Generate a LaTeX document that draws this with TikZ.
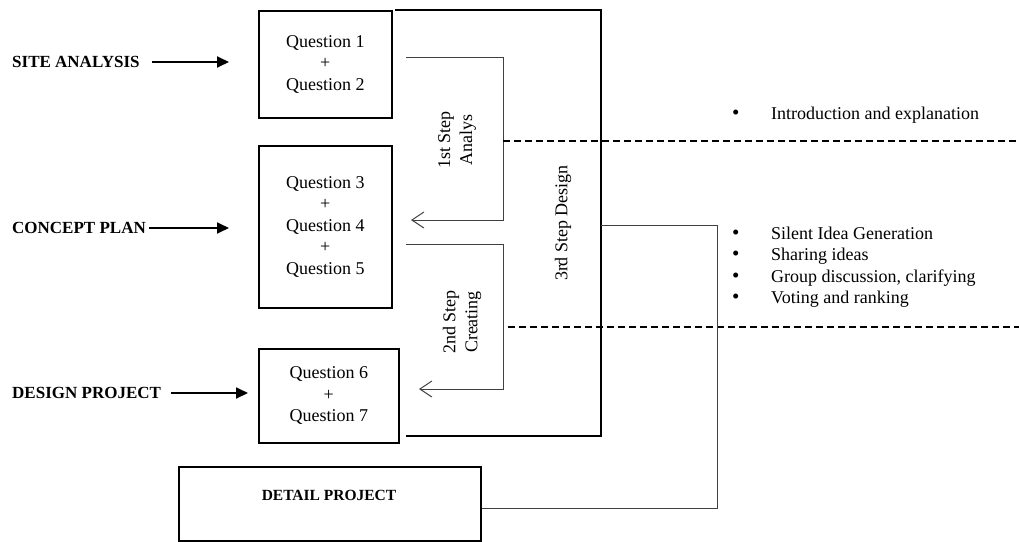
\documentclass[tikz,border=0pt]{standalone}
\usepackage{fontspec}
\setmainfont{Liberation Serif}
\usetikzlibrary{arrows.meta}
\begin{document}
\begin{tikzpicture}[x=1pt,y=-1pt,
  qbox/.style={draw, line width=1.6pt, anchor=north west, align=center, inner sep=0pt,
    font=\fontsize{18}{21.5}\selectfont},
  lbl/.style={anchor=west, inner sep=0pt, font=\fontsize{17}{20}\selectfont\bfseries},
  larrow/.style={line width=1.8pt, -{Triangle[length=12pt,width=11pt]}},
  frame/.style={line width=1.6pt},
  thinline/.style={line width=1pt, draw=black!75},
  barb/.style={thinline, -{Straight Barb[length=12pt,width=16pt]}},
  sepline/.style={line width=1.5pt, dash pattern=on 7pt off 4pt},
  rot/.style={rotate=90, align=center, inner sep=0pt, font=\fontsize{18}{22}\selectfont},
  bul/.style={anchor=base west, inner sep=0pt, font=\fontsize{18}{21}\selectfont}]
\useasboundingbox (0,0) rectangle (1019,541);

% question boxes
\node[qbox, minimum width=133pt, minimum height=107pt] (q12) at (258,10) {Question 1\\+\\Question 2};
\node[qbox, minimum width=133pt, minimum height=162pt] (q345) at (258,145) {Question 3\\+\\Question 4\\+\\Question 5};
\node[qbox, minimum width=140pt, minimum height=94pt] (q67) at (258,348) {Question 6\\+\\Question 7};
\node[draw, line width=1.6pt, anchor=north west, minimum width=302pt, minimum height=74pt, inner sep=0pt] (detail) at (178,466) {};
\node[inner sep=0pt, font=\fontsize{15.5}{18}\selectfont\bfseries] (detailtxt) at (329,495) {DETAIL PROJECT};

% left labels
\node[lbl] (site) at (12,62) {SITE ANALYSIS};
\node[lbl] (concept) at (12,228) {CONCEPT PLAN};
\node[lbl] (design) at (12,393) {DESIGN PROJECT};
\draw[larrow, shorten >=29pt] ([xshift=12pt]site.east) -- (site.east -| q12.west);
\draw[larrow, shorten >=29pt] ([xshift=3pt]concept.east) -- (concept.east -| q345.west);
\draw[larrow, shorten >=10pt] ([xshift=10pt]design.east) -- (design.east -| q67.west);

% 3rd step frame
\coordinate (ftl) at (395,10);
\coordinate (ftr) at (601,10);
\coordinate (fbr) at (601,436);
\coordinate (fbl) at (406,436);
\draw[frame] (ftl) -- (ftr) -- (fbr) -- (fbl);
\node[rot] (s3) at (563,223) {3rd Step Design};

% 1st step bracket
\coordinate (a1s) at (406,57);
\coordinate (a1c) at (503,57);
\coordinate (a1d) at (503,220);
\coordinate (a1e) at (411,220);
\draw[barb] (a1s) -- (a1c) -- (a1d) -- (a1e);
\node[rot] (s1) at (457,140) {1st Step\\Analys};

% 2nd step bracket
\coordinate (a2s) at (406,244);
\coordinate (a2c) at (503,244);
\coordinate (a2d) at (503,389);
\coordinate (a2e) at (419,389);
\draw[barb] (a2s) -- (a2c) -- (a2d) -- (a2e);
\node[rot] (s2) at (462,322) {2nd Step\\Creating};

% dashed separators
\coordinate (d1s) at (503,141);
\coordinate (d1e) at (1019,141);
\coordinate (d2s) at (508,327);
\coordinate (d2e) at (1019,327);
\draw[sepline] (d1s) -- (d1e);
\draw[sepline] (d2s) -- (d2e);

% connection to detail project
\coordinate (c1) at (601,225);
\coordinate (c2) at (717,225);
\coordinate (c3) at (717,508);
\draw[thinline] (c1) -- (c2) -- (c3) -- (c3 -| detail.east);

% bullets
\foreach \y/\t/\n in {119/Introduction and explanation/b1,
                      239/Silent Idea Generation/b2,
                      260/Sharing ideas/b3,
                      282/{Group discussion, clarifying}/b4,
                      303/Voting and ranking/b5}{
  \node[bul] (\n) at (771,\y) {\t};
  \node[bul, font=\fontsize{21}{21}\selectfont] (\n dot) at (732,\y) {•};
}
\end{tikzpicture}
\end{document}
